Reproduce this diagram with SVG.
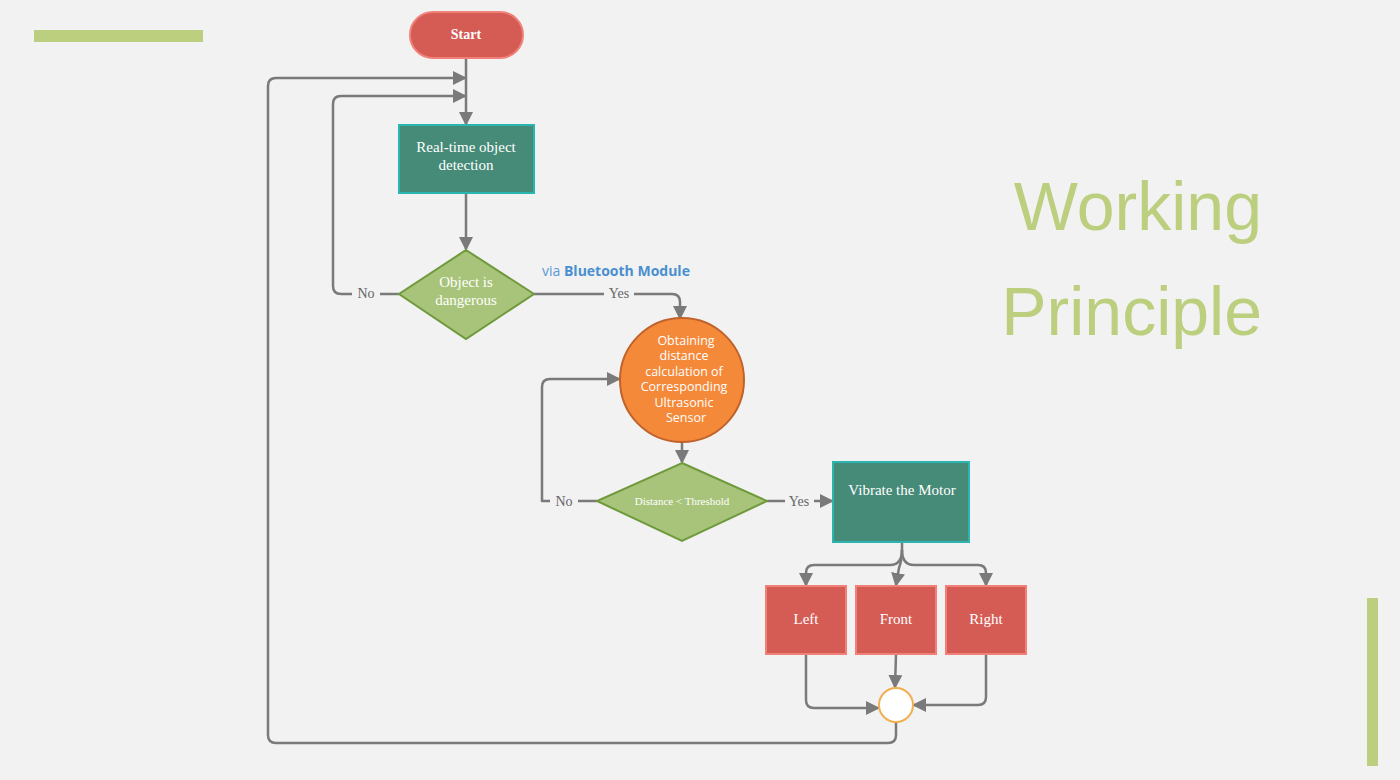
<svg xmlns="http://www.w3.org/2000/svg" width="1400" height="780" viewBox="0 0 1400 780">
<style>
.ln{fill:none;stroke:#7a7a7a;stroke-width:2.5;stroke-linejoin:round}
.ser{font-family:"Liberation Serif","Times New Roman",serif;fill:#fff;text-anchor:middle}
.lbl{font-family:"Liberation Serif","Times New Roman",serif;fill:#666;font-size:14px;text-anchor:middle}
.red{fill:#d45c55;stroke:#f08078;stroke-width:2}
.teal{fill:#468a78;stroke:#2ab5b0;stroke-width:2}
.dia{fill:#a8c47a;stroke:#6f9a3c;stroke-width:2}
.sans{font-family:"Open Sans","Noto Sans",sans-serif;fill:#fff;text-anchor:middle;font-size:12.5px}
</style>
<defs>
<marker id="ah" markerWidth="14" markerHeight="14" refX="12" refY="7" orient="auto" markerUnits="userSpaceOnUse">
<path d="M0,0 L14,7 L0,14 Z" fill="#7a7a7a"/>
</marker>
</defs>
<rect width="1400" height="780" fill="#f2f2f2"/>
<rect x="34" y="30" width="169" height="12" fill="#bccf7e"/>
<rect x="1367" y="598" width="11" height="168" fill="#bccf7e"/>
<text x="1262" y="230" font-family="Liberation Sans,Arial,sans-serif" font-size="68" fill="#bccf7e" text-anchor="end">Working</text>
<text x="1262" y="335" font-family="Liberation Sans,Arial,sans-serif" font-size="68" fill="#bccf7e" text-anchor="end">Principle</text>
<g id="connectors">
<path class="ln" d="M466,58 V124" marker-end="url(#ah)"/>
<path class="ln" d="M466,193 V249" marker-end="url(#ah)"/>
<path class="ln" d="M399,294 H380 M352,294 H341 Q333,294 333,286 V104 Q333,96 341,96 H465" marker-end="url(#ah)"/>
<path class="ln" d="M534,294 H604 M634,294 H672 Q680,294 680,302 V318" marker-end="url(#ah)"/>
<path class="ln" d="M682,441 V462" marker-end="url(#ah)"/>
<path class="ln" d="M597,501 H578 M550,501 H542 V387 Q542,379 550,379 H619" marker-end="url(#ah)"/>
<path class="ln" d="M767,501 H785 M814,501 H832" marker-end="url(#ah)"/>
<path class="ln" d="M902,542 V550 Q902,565 890,565 H814 Q806,565 806,573 V585" marker-end="url(#ah)"/>
<path class="ln" d="M902,550 Q902,560 899,568 L896,585" marker-end="url(#ah)"/>
<path class="ln" d="M902,550 Q902,565 914,565 H978 Q986,565 986,573 V585" marker-end="url(#ah)"/>
<path class="ln" d="M806,654 V700 Q806,708 814,708 H878" marker-end="url(#ah)"/>
<path class="ln" d="M896,654 L895,687" marker-end="url(#ah)"/>
<path class="ln" d="M986,654 V697 Q986,705 978,705 H914" marker-end="url(#ah)"/>
<path class="ln" d="M896,722 V735 Q896,743 888,743 H276 Q268,743 268,735 V86 Q268,78 276,78 H465" marker-end="url(#ah)"/>
<text class="lbl" x="366" y="298">No</text>
<text class="lbl" x="619" y="298">Yes</text>
<text class="lbl" x="564" y="506">No</text>
<text class="lbl" x="799" y="506">Yes</text>
<text x="542" y="276" font-family="Open Sans,Noto Sans,sans-serif" font-size="14" fill="#5a9ad6">via <tspan font-weight="bold" fill="#4a8fd0">Bluetooth Module</tspan></text>
</g>
<g id="start">
<rect class="red" x="410" y="12" width="113" height="46" rx="23"/>
<text class="ser" x="466" y="39" font-size="14" font-weight="bold">Start</text>
</g>
<g id="detect">
<rect class="teal" x="399" y="125" width="135" height="68"/>
<text class="ser" x="466" y="152" font-size="15">Real-time object</text>
<text class="ser" x="466" y="170" font-size="15">detection</text>
</g>
<g id="dangerous">
<polygon class="dia" points="466,250 534,294 466,339 399,294"/>
<text class="ser" x="466" y="287" font-size="15">Object is</text>
<text class="ser" x="466" y="305" font-size="15">dangerous</text>
</g>
<g id="obtain">
<circle cx="682" cy="380" r="62" fill="#f5893a" stroke="#c0622a" stroke-width="2"/>
<text class="sans" x="686" y="345">Obtaining</text>
<text class="sans" x="684" y="360">distance</text>
<text class="sans" x="684" y="376">calculation of</text>
<text class="sans" x="684" y="391">Corresponding</text>
<text class="sans" x="684" y="407">Ultrasonic</text>
<text class="sans" x="686" y="422">Sensor</text>
</g>
<g id="threshold">
<polygon class="dia" points="682,463 767,501 682,541 597,501"/>
<text class="ser" x="682" y="505" font-size="11">Distance &lt; Threshold</text>
</g>
<g id="vibrate">
<rect class="teal" x="833" y="462" width="136" height="80"/>
<text class="ser" x="902" y="495" font-size="15">Vibrate the Motor</text>
</g>
<g id="left">
<rect class="red" x="766" y="586" width="80" height="68"/>
<text class="ser" x="806" y="624" font-size="15">Left</text>
</g>
<g id="front">
<rect class="red" x="856" y="586" width="80" height="68"/>
<text class="ser" x="896" y="624" font-size="15">Front</text>
</g>
<g id="right">
<rect class="red" x="946" y="586" width="80" height="68"/>
<text class="ser" x="986" y="624" font-size="15">Right</text>
</g>
<g id="join">
<circle cx="896" cy="705" r="17" fill="#fff" stroke="#f0b050" stroke-width="2"/>
</g>
</svg>
